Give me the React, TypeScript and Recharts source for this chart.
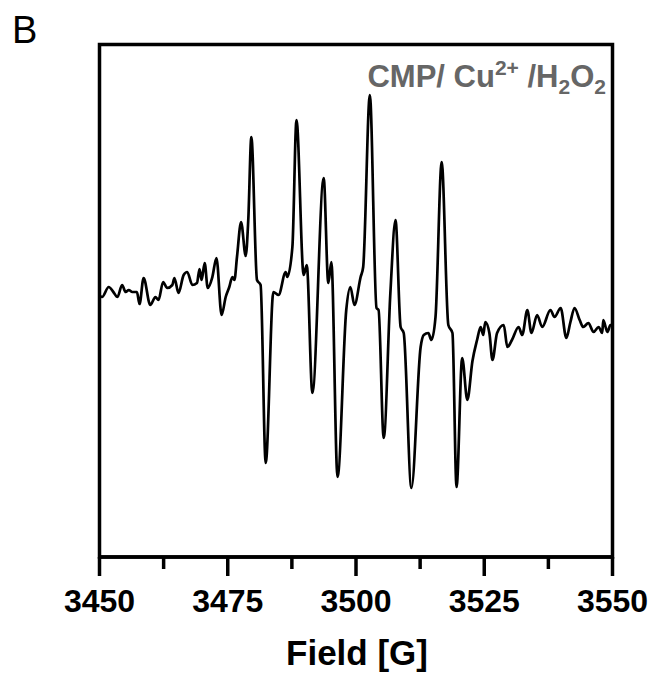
import React from 'react';
import { LineChart, Line, XAxis, YAxis, ReferenceArea } from 'recharts';

// EPR spectrum, field in gauss, intensity in arbitrary units
const fieldG = [
  3450.0, 3450.5, 3451.8, 3452.7, 3453.5, 3454.4, 3455.1, 3455.7, 3456.4, 3457.3,
  3457.8, 3458.6, 3459.9, 3460.9, 3461.5, 3462.4, 3463.2, 3464.2, 3464.6, 3465.4,
  3466.4, 3467.1, 3468.1, 3469.0, 3469.5, 3469.9, 3470.5, 3471.1, 3472.0, 3472.8,
  3473.8, 3474.6, 3475.3, 3475.9, 3476.3, 3476.8, 3477.6, 3478.5, 3479.0, 3479.6,
  3480.7, 3481.4, 3482.4, 3483.9, 3484.9, 3486.3, 3486.6, 3487.6, 3488.4, 3489.8,
  3490.4, 3491.5, 3493.7, 3494.6, 3495.2, 3496.4, 3498.1, 3498.9, 3499.7, 3500.9,
  3501.4, 3502.7, 3504.0, 3504.4, 3505.4, 3506.7, 3507.7, 3508.7, 3509.3, 3510.8,
  3512.6, 3513.2, 3514.1, 3514.7, 3515.5, 3516.7, 3518.0, 3518.8, 3519.6, 3520.7,
  3521.7, 3522.7, 3523.6, 3524.3, 3524.8, 3525.2, 3526.0, 3526.6, 3527.5, 3528.8,
  3529.5, 3530.4, 3531.7, 3532.4, 3533.4, 3534.2, 3535.3, 3536.3, 3537.9, 3538.7,
  3539.9, 3541.0, 3541.8, 3542.6, 3543.6, 3544.3, 3545.3, 3546.3, 3547.3, 3548.0,
  3548.2, 3549.0, 3549.6, 3550.0,
];

const signal = [
  4, 3, 13, 8, 3, 15, 8, 10, 8, 8,
  -4, 22, -5, 3, 0, 18, 12, 15, 22, 7,
  25, 28, 15, 17, 31, 20, 37, 12, 23, 42,
  -15, 3, 13, 23, 20, 43, 78, 44, 80, 163,
  20, 15, -163, 8, 5, 28, 23, 53, 180, 25,
  35, -93, 122, 17, 38, -177, -10, 13, -5, 23,
  33, 205, -8, -10, -138, 7, 80, -27, -33, -188,
  -47, -35, -33, -40, -17, 138, -25, -33, -187, -58,
  -100, -61, -40, -27, -35, -22, -33, -60, -33, -25,
  -47, -40, -27, -35, -10, -33, -15, -27, -10, -17,
  -8, -38, -22, -8, -20, -27, -23, -32, -27, -33,
  -20, -32, -25, -25,
];

const xTicks = [3450, 3462.5, 3475, 3487.5, 3500, 3512.5, 3525, 3537.5, 3550];
const yRange = [-257, 255.5];

const data = fieldG.map((f, i) => ({ field: f, y: signal[i] }));

const FONT = '"Liberation Sans", Arial, Helvetica, sans-serif';

const FieldTick = (props: any) => {
  const { x, y, payload } = props;
  const major = payload.value % 25 === 0;
  return (
    <g>
      <line x1={x} x2={x} y1={y} y2={y + (major ? 19 : 12)} stroke="#000" strokeWidth={3.5} />
      {major && (
        <text x={x} y={y + 55} textAnchor="middle" fontFamily={FONT} fontWeight="bold" fontSize={32} fill="#000">
          {payload.value}
        </text>
      )}
    </g>
  );
};

export default function App() {
  return (
    <div style={{ position: 'absolute', left: 0, top: 0, width: 652, height: 675 }}>
      <LineChart
        width={652}
        height={675}
        data={data}
        margin={{ top: 44.5, right: 39.5, left: 99.5, bottom: 58 }}
      >
        <XAxis
          dataKey="field"
          type="number"
          domain={[3450, 3550]}
          ticks={xTicks}
          interval={0}
          allowDataOverflow
          height={60}
          tickSize={0}
          tickMargin={0}
          tickLine={false}
          axisLine={{ stroke: '#000', strokeWidth: 3.5 }}
          tick={<FieldTick />}
        />
        <YAxis domain={yRange} hide width={0} allowDataOverflow />
        <Line
          dataKey="y"
          type="monotone"
          stroke="#000"
          strokeWidth={2.7}
          strokeLinejoin="round"
          dot={false}
          isAnimationActive={false}
        />
        <ReferenceArea
          x1={3450}
          x2={3550}
          y1={yRange[0]}
          y2={yRange[1]}
          fill="none"
          fillOpacity={0}
          stroke="#000"
          strokeWidth={3.5}
          ifOverflow="visible"
        />
      </LineChart>
      <svg width={652} height={675} style={{ position: 'absolute', left: 0, top: 0, pointerEvents: 'none' }}>
        <text x={12} y={43} fontFamily={FONT} fontSize={38} fill="#000">B</text>
        <text x={606} y={87} textAnchor="end" fontFamily={FONT} fontWeight="bold" fontSize={31} fill="#666" style={{ whiteSpace: 'pre' }}>
          CMP/ Cu
          <tspan fontSize={21} dy={-12}>2+</tspan>
          <tspan fontSize={31} dy={12}>{' /H'}</tspan>
          <tspan fontSize={21} dy={7}>2</tspan>
          <tspan fontSize={31} dy={-7}>O</tspan>
          <tspan fontSize={21} dy={7}>2</tspan>
        </text>
        <text x={357} y={665} textAnchor="middle" fontFamily={FONT} fontWeight="bold" fontSize={35} fill="#000">Field [G]</text>
      </svg>
    </div>
  );
}
